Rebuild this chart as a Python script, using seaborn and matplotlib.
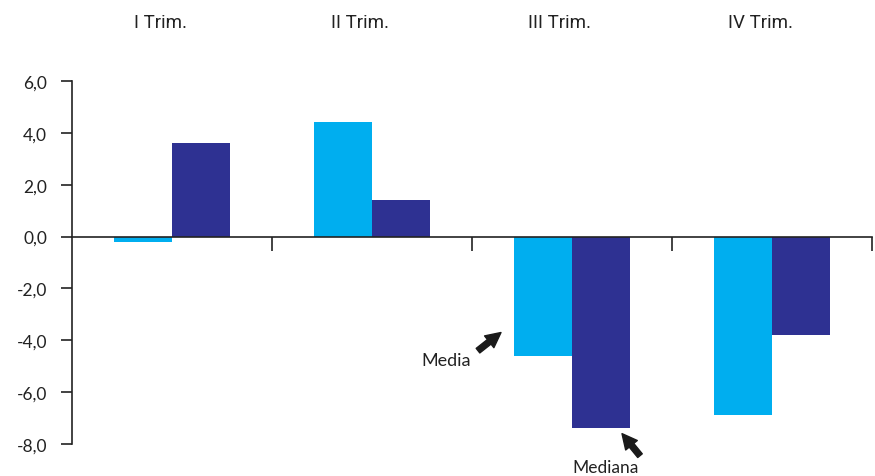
import matplotlib
matplotlib.use("Agg")
import matplotlib.pyplot as plt
import matplotlib.transforms as mtransforms
import seaborn as sns
import pandas as pd

quarters = ["I Trim.", "II Trim.", "III Trim.", "IV Trim."]
media = [-0.2, 4.4, -4.6, -6.9]
mediana = [3.6, 1.4, -7.4, -3.8]
y_ticks = [-8, -6, -4, -2, 0, 2, 4, 6]

df = pd.DataFrame({
    "trim": quarters * 2,
    "valor": media + mediana,
    "serie": ["Media"] * 4 + ["Mediana"] * 4,
})

sns.set_theme(style="white")
plt.rcParams["font.family"] = ["Lato", "DejaVu Sans"]

fig = plt.figure(figsize=(8.75, 4.77), dpi=100)
ax = fig.add_axes([72 / 875, 32 / 477, 800 / 875, 363 / 477])

sns.barplot(data=df, x="trim", y="valor", hue="serie",
            palette=["#00AEEF", "#2E3192"], width=0.58,
            saturation=1, legend=False, ax=ax, errorbar=None)
for p in ax.patches:
    p.set_edgecolor("none")

ax.set_xlim(-0.5, 3.5)
ax.set_ylim(-8, 6)
ax.set_xlabel("")
ax.set_ylabel("")

# y axis
ax.set_yticks(y_ticks)
ax.set_yticklabels([f"{v:.1f}".replace(".", ",") for v in y_ticks],
                   fontsize=12.5, color="#222222")
ax.tick_params(axis="y", direction="out", length=8, width=1.2,
               color="#222222", pad=10, left=True)

# x axis on the zero line, ticks between quarters
ax.spines["bottom"].set_position(("data", 0))
ax.spines["top"].set_visible(False)
ax.spines["right"].set_visible(False)
for s in ("left", "bottom"):
    ax.spines[s].set_color("#222222")
    ax.spines[s].set_linewidth(1.2)
ax.set_xticks([0.5, 1.5, 2.5, 3.5])
ax.set_xticklabels([])
ax.tick_params(axis="x", direction="out", length=10, width=1.2,
               color="#222222", bottom=True)

# quarter labels above the plot
trans = mtransforms.blended_transform_factory(ax.transData, fig.transFigure)
for i, q in enumerate(quarters):
    ax.text(i - 0.06, 1 - 23 / 477, q, transform=trans, ha="center",
            va="center", fontsize=13.5, color="#222222",
            family=["Liberation Sans Narrow", "Roboto", "DejaVu Sans"],
            fontstretch="condensed")

arrow = dict(arrowstyle="simple,head_length=0.9,head_width=0.9,tail_width=0.35",
             color="#1a1a1a", shrinkA=0, shrinkB=0)
ax.annotate("", xy=(1.645, -3.7), xytext=(1.53, -4.4),
            arrowprops=arrow, annotation_clip=False)
ax.text(1.37, -4.75, "Media", ha="center", va="center",
        fontsize=13, color="#222222")
ax.annotate("", xy=(2.25, -7.6), xytext=(2.34, -8.45),
            arrowprops=arrow, annotation_clip=False)
ax.text(2.17, -8.9, "Mediana", ha="center", va="center",
        fontsize=12.5, color="#222222", clip_on=False)

fig.savefig("out.png", dpi=100)
